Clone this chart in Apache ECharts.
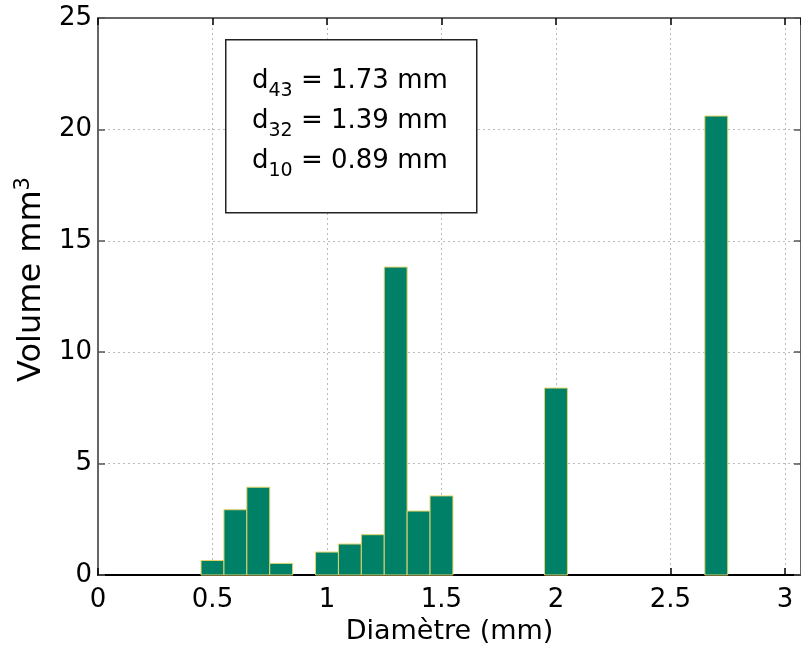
<!DOCTYPE html>
<html>
<head>
<meta charset="utf-8">
<script src="https://cdn.jsdelivr.net/npm/echarts@6/dist/echarts.min.js"></script>
<style>html,body{margin:0;padding:0;background:#fff;}#c{width:801px;height:653px;}</style>
</head>
<body>
<div id="c"></div>
<script>
const diameters = [0.5, 0.6, 0.7, 0.8, 1.0, 1.1, 1.2, 1.3, 1.4, 1.5, 2.0, 2.7];
const volumes = [0.65, 2.93, 3.94, 0.52, 1.03, 1.39, 1.81, 13.82, 2.87, 3.55, 8.39, 20.6];
const binWidth = 0.1;
const statNames = ['43', '32', '10'];
const statValues = ['1.73', '1.39', '0.89'];
const xTicks = [0, 0.5, 1, 1.5, 2, 2.5, 3];

const FONT = 'DejaVu Sans, sans-serif';
const chart = echarts.init(document.getElementById('c'), null, {renderer: 'canvas'});

const data = diameters.map((d, i) => [d, volumes[i]]);
const statText = statNames.map((n, i) => '{d|d}{s|' + n + '}{t| = ' + statValues[i] + ' mm}').join('\n');

const option = {
  backgroundColor: '#fff',
  animation: false,
  grid: {left: 98, right: 0, top: 18, bottom: 78, containLabel: false, outerBoundsMode: 'none'},
  xAxis: [{
    type: 'value', min: 0, max: 3.07, interval: 0.5, position: 'bottom',
    name: 'Diamètre (mm)', nameLocation: 'middle', nameGap: 43,
    nameTextStyle: {fontFamily: FONT, fontSize: 27, color: '#000'},
    axisLine: {show: true, onZero: false, lineStyle: {color: '#000', width: 2}},
    axisTick: {show: true, inside: true, length: 7, lineStyle: {color: '#000', width: 1.5}},
    axisLabel: {fontFamily: FONT, fontSize: 26, color: '#000', margin: 12, showMaxLabel: false,
      formatter: v => xTicks.indexOf(Math.round(v * 100) / 100) >= 0 ? String(v) : ''},
    splitLine: {show: true, lineStyle: {color: '#bbb', type: [2, 3], width: 1}}
  }, {
    type: 'value', min: 0, max: 3.07, interval: 0.5, position: 'top',
    axisLine: {show: true, onZero: false, lineStyle: {color: '#666', width: 2}},
    axisTick: {show: true, inside: true, length: 7, lineStyle: {color: '#000', width: 1.5}},
    axisLabel: {show: false}, splitLine: {show: false}
  }],
  yAxis: [{
    type: 'value', min: 0, max: 25, interval: 5, position: 'left',
    name: '{a|Volume mm}{s|3}', nameLocation: 'middle', nameGap: 45,
    nameTextStyle: {fontFamily: FONT, fontSize: 32, color: '#000', padding: [0, 0, 0, 34],
      rich: {a: {fontFamily: FONT, fontSize: 32, lineHeight: 38, color: '#000'},
             s: {fontFamily: FONT, fontSize: 21, lineHeight: 18, verticalAlign: 'top', color: '#000'}}},
    axisLine: {show: true, onZero: false, lineStyle: {color: '#666', width: 2}},
    axisTick: {show: true, inside: true, length: 7, lineStyle: {color: '#555', width: 1.5}},
    axisLabel: {fontFamily: FONT, fontSize: 26, color: '#000', margin: 6},
    splitLine: {show: true, lineStyle: {color: '#bbb', type: [2, 3], width: 1}}
  }, {
    type: 'value', min: 0, max: 25, interval: 5, position: 'right',
    axisLine: {show: true, onZero: false, lineStyle: {color: '#666', width: 2}},
    axisTick: {show: true, inside: true, length: 7, lineStyle: {color: '#555', width: 1.5}},
    axisLabel: {show: false}, splitLine: {show: false}
  }],
  series: [{
    type: 'custom', xAxisIndex: 0, yAxisIndex: 0,
    data: data,
    encode: {x: 0, y: 1},
    renderItem: function (params, api) {
      const x = api.value(0), v = api.value(1);
      const p1 = api.coord([x - binWidth / 2, v]);
      const p2 = api.coord([x + binWidth / 2, 0]);
      return {
        type: 'rect',
        shape: {x: p1[0], y: p1[1], width: p2[0] - p1[0], height: p2[1] - p1[1]},
        style: {fill: '#008066', stroke: '#e3d36b', lineWidth: 1}
      };
    }
  }],
  graphic: [{
    type: 'rect', left: 225, top: 39, z: 100,
    shape: {width: 251, height: 173},
    style: {fill: '#fff', stroke: '#222', lineWidth: 1.5}
  }, {
    type: 'text', left: 252, top: 68, z: 101,
    style: {
      text: statText,
      rich: {
        d: {fontFamily: FONT, fontSize: 26, lineHeight: 40, color: '#000'},
        t: {fontFamily: FONT, fontSize: 26, lineHeight: 40, color: '#000'},
        s: {fontFamily: FONT, fontSize: 19, lineHeight: 6, verticalAlign: 'bottom', color: '#000'}
      }
    }
  }]
};
chart.setOption(option);
</script>
</body>
</html>
